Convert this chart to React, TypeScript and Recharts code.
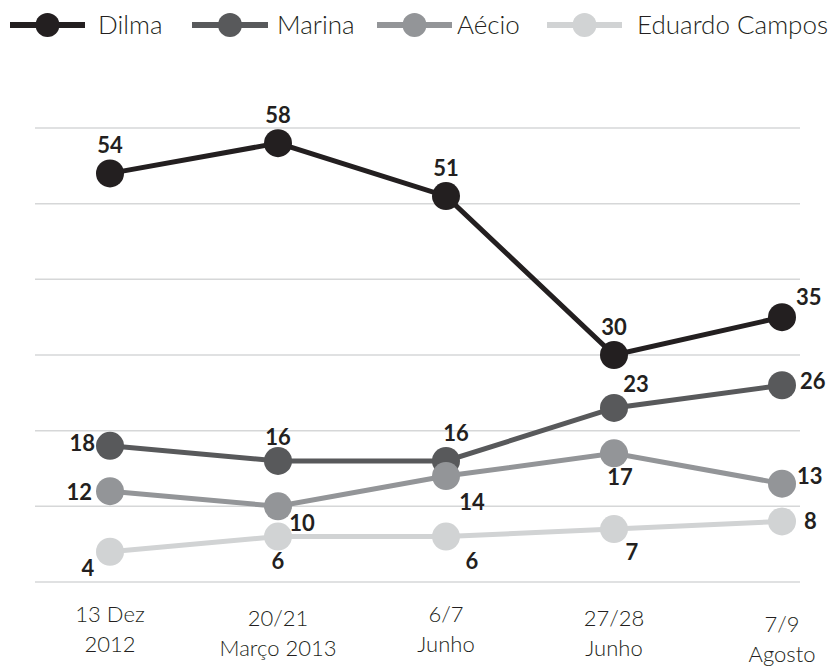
import { LineChart, Line, XAxis, YAxis, CartesianGrid, LabelList } from "recharts";

const dates = ["13 Dez|2012", "20/21|Março 2013", "6/7|Junho", "27/28|Junho", "7/9|Agosto"];
const dilma = [54, 58, 51, 30, 35];
const marina = [18, 16, 16, 23, 26];
const aecio = [12, 10, 14, 17, 13];
const eduardo = [4, 6, 6, 7, 8];
const yTicks = [0, 10, 20, 30, 40, 50, 60];

const data = dates.map((d, i) => ({
  date: d,
  Dilma: dilma[i],
  Marina: marina[i],
  Aecio: aecio[i],
  Eduardo: eduardo[i],
}));

const FONT = "Lato, 'Open Sans', sans-serif";
const INK = "#231f20";

// label placement per point: [dx, dy, anchor]
type Place = [number, number, "start" | "middle" | "end"];
const dilmaPos: Place[] = [[0, -20, "middle"], [0, -20, "middle"], [0, -20, "middle"], [0, -20, "middle"], [14, -12, "start"]];
const marinaPos: Place[] = [[-15, 5, "end"], [0, -16, "middle"], [10, -20, "middle"], [22, -16, "middle"], [18, 4, "start"]];
const aecioPos: Place[] = [[-18, 9, "end"], [24, 25, "middle"], [26, 34, "middle"], [6, 32, "middle"], [15, 0, "start"]];
const eduardoPos: Place[] = [[-22, 24, "middle"], [0, 32, "middle"], [26, 32, "middle"], [18, 31, "middle"], [22, 8, "start"]];

// small vertical nudge of each date label, as in the original layout
const tickNudge = [0, 4, 0, 4, 10];

const makeLabel = (pos: Place[]) => (props: any) => {
  const { x, y, value, index } = props;
  const [dx, dy, anchor] = pos[index];
  return (
    <text x={x + dx} y={y + dy} textAnchor={anchor} fontFamily={FONT} fontWeight={700} fontSize={22} fill={INK}>
      {value}
    </text>
  );
};

const DateTick = (props: any) => {
  const { x, y, payload, index } = props;
  const [a, b] = String(payload.value).split("|");
  const n = tickNudge[index] || 0;
  return (
    <text x={x} textAnchor="middle" fontFamily={FONT} fontWeight={300} fontSize={22} fill={INK}>
      <tspan x={x} y={y + 32 + n}>{a}</tspan>
      <tspan x={x} y={y + 62 + n}>{b}</tspan>
    </text>
  );
};

const series = [
  { key: "Dilma", name: "Dilma", color: "#231f20", pos: dilmaPos },
  { key: "Marina", name: "Marina", color: "#58595b", pos: marinaPos },
  { key: "Aecio", name: "Aécio", color: "#939598", pos: aecioPos },
  { key: "Eduardo", name: "Eduardo Campos", color: "#d1d3d4", pos: eduardoPos },
];

// legend layout: line start, line end, text x
const legendLayout = [
  [10, 85, 98],
  [192, 268, 277],
  [377, 452, 457],
  [547, 622, 637],
];

function Legend() {
  return (
    <svg width={832} height={50} style={{ position: "absolute", left: 0, top: 0 }}>
      {series.map((s, i) => {
        const [x0, x1, tx] = legendLayout[i];
        return (
          <g key={s.key}>
            <line x1={x0} x2={x1} y1={25} y2={25} stroke={s.color} strokeWidth={6} />
            <circle cx={(x0 + x1) / 2} cy={25} r={12} fill={s.color} />
            <text x={tx} y={34} fontFamily={FONT} fontWeight={300} fontSize={26} fill={INK}>
              {s.name}
            </text>
          </g>
        );
      })}
    </svg>
  );
}

export default function App() {
  return (
    <div style={{ position: "absolute", left: 0, top: 0, width: 832, height: 667, background: "#fff" }}>
      <LineChart width={832} height={667} data={data} margin={{ top: 128, right: 32, bottom: 55, left: 35 }}>
        <CartesianGrid horizontal vertical={false} stroke="#d6d7d8" strokeWidth={1.5} />
        <XAxis
          dataKey="date"
          axisLine={false}
          tickLine={false}
          padding={{ left: 75, right: 18 }}
          tick={<DateTick />}
          interval={0}
        />
        <YAxis hide domain={[0, 60]} ticks={yTicks} width={0} />
        {series.map((s) => (
          <Line
            key={s.key}
            dataKey={s.key}
            stroke={s.color}
            strokeWidth={5}
            dot={{ r: 14, fill: s.color, stroke: "none" }}
            activeDot={false}
            isAnimationActive={false}
          >
            <LabelList dataKey={s.key} content={makeLabel(s.pos)} />
          </Line>
        ))}
      </LineChart>
      <Legend />
    </div>
  );
}
